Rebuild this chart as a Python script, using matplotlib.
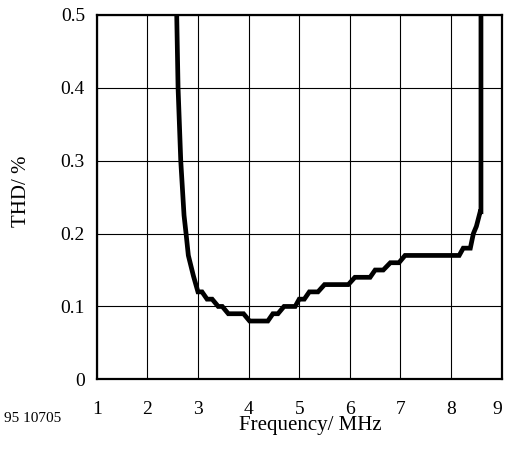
import matplotlib
matplotlib.use('Agg')
import matplotlib.pyplot as plt
from matplotlib.transforms import ScaledTranslation

plt.rcParams['font.family'] = ['Liberation Serif', 'DejaVu Serif']

# THD vs frequency
freq = [2.567, 2.607, 2.66, 2.725, 2.765, 2.81, 2.91, 3.0, 3.08, 3.18, 3.28, 3.40, 3.48,
        3.60, 3.90, 4.02, 4.38, 4.48, 4.58, 4.70, 4.92, 5.00, 5.10, 5.20, 5.37,
        5.50, 5.97, 6.10, 6.40, 6.50, 6.66, 6.80, 6.97, 7.09, 8.16, 8.24, 8.38,
        8.44, 8.50, 8.575, 8.59, 8.59]
thd = [0.55, 0.40, 0.30, 0.225, 0.20, 0.17, 0.142, 0.12, 0.12, 0.11, 0.11, 0.10, 0.10,
       0.09, 0.09, 0.08, 0.08, 0.09, 0.09, 0.10, 0.10, 0.11, 0.11, 0.12, 0.12,
       0.13, 0.13, 0.14, 0.14, 0.15, 0.15, 0.16, 0.16, 0.17, 0.17, 0.18, 0.18,
       0.20, 0.21, 0.23, 0.23, 0.55]

xticks = [1, 2, 3, 4, 5, 6, 7, 8, 9]
yticks = [0, 0.1, 0.2, 0.3, 0.4, 0.5]
ylabels = ['0', '0.1', '0.2', '0.3', '0.4', '0.5']

fig = plt.figure(figsize=(5.05, 4.54), dpi=100)
ax = fig.add_axes([0.1915, 0.1645, 0.802, 0.8025])

ax.plot(freq, thd, '-', color='black', linewidth=3.4, solid_joinstyle='miter')

ax.set_xlim(1, 9)
ax.set_ylim(0, 0.5)
ax.set_xticks(xticks)
ax.set_xticklabels([str(t) for t in xticks], fontsize=14)
ax.set_yticks(yticks)
ax.set_yticklabels(ylabels, fontsize=14)
ax.tick_params(length=0)
ax.tick_params(axis='y', pad=8.5)
ax.tick_params(axis='x', pad=15.5)
ax.grid(True, color='black', linewidth=0.8)
ax.set_axisbelow(True)
for s in ax.spines.values():
    s.set_linewidth(1.6)

# last x label sits a little inside the figure edge
last = ax.get_xticklabels()[-1]
last.set_transform(last.get_transform() + ScaledTranslation(-3.5 / 72, 0, fig.dpi_scale_trans))

ax.set_xlabel('Frequency/ MHz', fontsize=15)
ax.xaxis.label.set_va('baseline')
ax.xaxis.set_label_coords(0.527, -0.14)
ax.set_ylabel('THD/ %', fontsize=15)
ax.yaxis.label.set_va('center')
ax.yaxis.set_label_coords(-0.185, 0.517)

fig.text(0.008, 0.079, '95 10705', fontsize=11, va='center', ha='left')

fig.savefig('out.png', dpi=100)
